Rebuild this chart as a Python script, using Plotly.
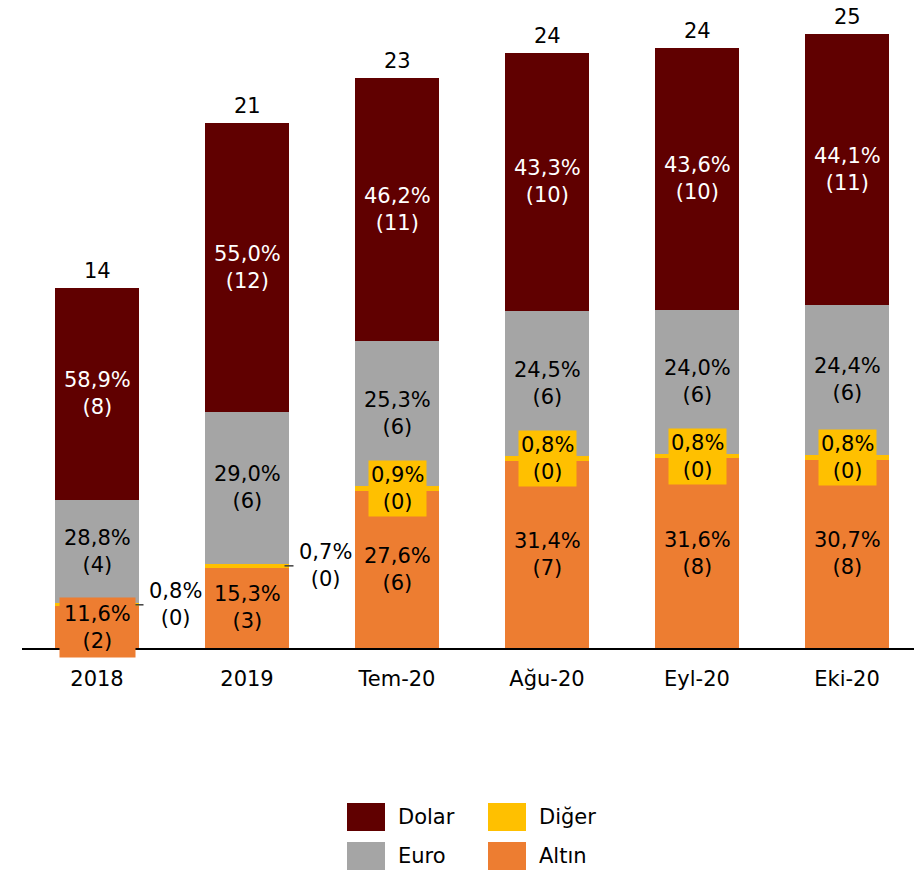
import plotly.graph_objects as go

categories = ["2018", "2019", "Tem-20", "Ağu-20", "Eyl-20", "Eki-20"]
totals = [14.4, 21.0, 22.8, 23.8, 24.0, 24.55]
pct_altin = [11.6, 15.3, 27.6, 31.4, 31.6, 30.7]
pct_diger = [0.8, 0.7, 0.9, 0.8, 0.8, 0.8]
pct_euro = [28.8, 29.0, 25.3, 24.5, 24.0, 24.4]
pct_dolar = [58.9, 55.0, 46.2, 43.3, 43.6, 44.1]

series = [
    ("Altın", pct_altin, "#ED7D31", "black"),
    ("Diğer", pct_diger, "#FFC000", "black"),
    ("Euro", pct_euro, "#A5A5A5", "black"),
    ("Dolar", pct_dolar, "#600000", "white"),
]

FONT = "DejaVu Sans"
FS = 21
OFF = 8  # page body margin
W, H = 922 - OFF, 872 - OFF
L, R, T, B = 22 - OFF, 0, 0, 224
PX_PER_UNIT = 25.0
plot_h = H - T - B
plot_w = W - L - R


def lab(p, v):
    return f"{p:.1f}".replace(".", ",") + "%<br>(" + str(int(v + 0.5)) + ")"


fig = go.Figure()
annotations = []
shapes = []
base = [0.0] * len(categories)
for name, pcts, color, tcolor in series:
    vals = [p / 100 * t for p, t in zip(pcts, totals)]
    fig.add_trace(go.Bar(x=categories, y=vals, name=name, marker_color=color,
                         marker_line_width=0, showlegend=False, hoverinfo="skip"))
    for i, (c, p, v) in enumerate(zip(categories, pcts, vals)):
        mid = base[i] + v / 2
        if name == "Diğer":
            if i < 2:
                shapes.append(dict(type="line", xref="x", yref="y",
                                   x0=i + 0.25, x1=i + 0.31, y0=mid, y1=mid,
                                   line=dict(color="#404040", width=1.5)))
                annotations.append(dict(x=i + 0.33, y=mid, xref="x", yref="y",
                                        text=lab(p, v), showarrow=False, xanchor="left",
                                        yanchor="middle", font=dict(color=tcolor)))
            else:
                annotations.append(dict(x=i, y=mid, xref="x", yref="y", text=lab(p, v),
                                        showarrow=False, bgcolor=color, borderpad=2,
                                        font=dict(color=tcolor)))
        elif name == "Altın" and i == 0:
            annotations.append(dict(x=i, y=mid, xref="x", yref="y", text=lab(p, v),
                                    showarrow=False, bgcolor=color, borderpad=4,
                                    font=dict(color=tcolor)))
        else:
            annotations.append(dict(x=i, y=mid, xref="x", yref="y", text=lab(p, v),
                                    showarrow=False, font=dict(color=tcolor)))
        base[i] += v

for i, t in enumerate(totals):
    annotations.append(dict(x=i, y=t, xref="x", yref="y", text=str(int(t + 0.5)),
                            showarrow=False, yanchor="bottom", yshift=3,
                            font=dict(color="black")))


def px(p):
    return (p - OFF - L) / plot_w


def py(p):
    return (H - B - (p - OFF)) / plot_h


legend_items = [
    ("Dolar", "#600000", 347, 803),
    ("Diğer", "#FFC000", 488, 803),
    ("Euro", "#A5A5A5", 347, 842),
    ("Altın", "#ED7D31", 488, 842),
]
for name, color, x0, y0 in legend_items:
    shapes.append(dict(type="rect", xref="paper", yref="paper",
                       x0=px(x0), x1=px(x0 + 38), y0=py(y0), y1=py(y0 + 28),
                       fillcolor=color, line_width=0))
    annotations.append(dict(x=px(x0 + 49), y=py(y0 + 14), xref="paper", yref="paper",
                            text=name, showarrow=False, xanchor="left", yanchor="middle",
                            font=dict(color="black")))

fig.update_layout(
    barmode="stack",
    bargap=0.44,
    width=W, height=H,
    margin=dict(l=L, r=R, t=T, b=B),
    plot_bgcolor="white", paper_bgcolor="white",
    font=dict(family=FONT, size=FS, color="black"),
    xaxis=dict(type="category", showline=True, linecolor="black", linewidth=2,
               showgrid=False, ticks="", ticklabelstandoff=11,
               tickfont=dict(size=FS, color="black"), fixedrange=True),
    yaxis=dict(visible=False, range=[0, plot_h / PX_PER_UNIT], showgrid=False,
               zeroline=False, fixedrange=True),
    annotations=annotations,
    shapes=shapes,
)

fig.write_html("out.html")
